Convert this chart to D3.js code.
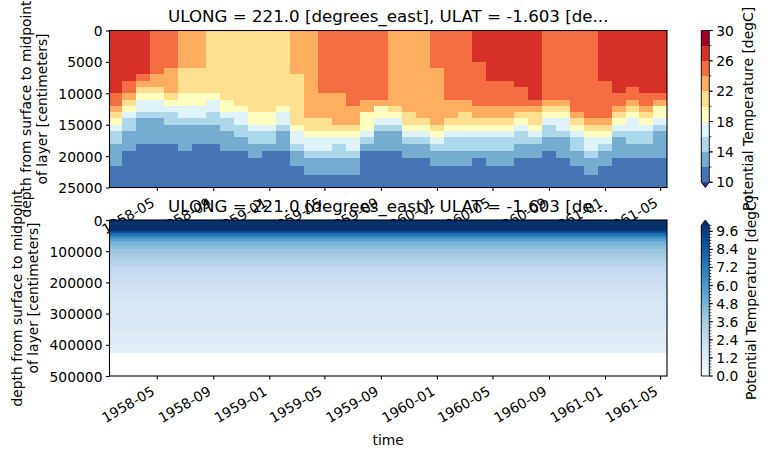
<!DOCTYPE html>
<html><head><meta charset="utf-8">
<script src="https://cdn.jsdelivr.net/npm/d3@7"></script>
<style>
body{margin:0;background:#fff}
svg text{font-family:"DejaVu Sans",sans-serif;fill:#000}
</style></head><body>
<svg id="c" width="770" height="457" xmlns="http://www.w3.org/2000/svg"></svg>
<script>
// ---------------- DATA ----------------
const titleText = "ULONG = 221.0 [degrees_east], ULAT = -1.603 [de...";
const yLabelLines = ["depth from surface to midpoint", "of layer [centimeters]"];
const cbarLabel = "Potential Temperature [degC]";
const xLabel = "time";

const monthStamps = [
 "1958-02-01","1958-03-01","1958-04-01","1958-05-01","1958-06-01","1958-07-01","1958-08-01","1958-09-01","1958-10-01","1958-11-01","1958-12-01",
 "1959-01-01","1959-02-01","1959-03-01","1959-04-01","1959-05-01","1959-06-01","1959-07-01","1959-08-01","1959-09-01","1959-10-01","1959-11-01","1959-12-01",
 "1960-01-01","1960-02-01","1960-03-01","1960-04-01","1960-05-01","1960-06-01","1960-07-01","1960-08-01","1960-09-01","1960-10-01","1960-11-01","1960-12-01",
 "1961-01-01","1961-02-01","1961-03-01","1961-04-01","1961-05-01"];

const depthLevels = [500,1500,2500,3500,4500,5500,6500,7500,8500,9500,10500,11500,12500,13500,14500,15500,
 16509.84,17547.9,18629.13,19766.03,20971.14,22257.83,23640.88,25137.02,
 26765.42,28548.37,30511.92,32686.8,35109.35,37822.76,40878.46,44337.77,48273.67,52772.8,57937.29,63886.26,
 70756.33,78700.25,87882.52,98470.59,110620.4,124456.7,140049.7,157394.6,176400.3,196894.4,218645.6,241397.2,
 264900.1,288938.5,313340.5,337979.3,362767.0,387646.9,412584.8];

// upper-ocean temperature (degC), one array per month, levels 0..23
const tempUpper = [
 [27,27,27,27,27,27,27,27,27,27,25,25,23,21,19,17,15,15,13,13,13,11,11,11],
 [27,27,27,27,27,27,27,27,25,25,23,21,19,17,15,15,13,13,13,11,11,11,11,11],
 [27,27,27,27,27,27,27,25,23,21,19,17,17,15,13,13,13,13,11,11,11,11,11,11],
 [25,25,25,25,25,25,25,23,23,21,19,17,17,15,13,13,13,13,11,11,11,11,11,11],
 [25,25,25,25,25,25,23,23,23,23,21,19,17,15,15,13,13,13,11,11,11,11,11,11],
 [23,23,23,23,23,23,21,21,21,21,19,19,17,17,15,13,13,13,13,11,11,11,11,11],
 [23,23,23,23,23,23,21,21,21,21,19,19,17,17,15,13,13,13,11,11,11,11,11,11],
 [21,21,21,21,21,21,21,21,21,21,19,17,17,15,15,13,13,13,11,11,11,11,11,11],
 [21,21,21,21,21,21,21,21,21,21,21,19,19,17,15,15,13,13,13,11,11,11,11,11],
 [21,21,21,21,21,21,21,21,21,21,21,21,19,17,17,15,15,13,13,11,11,11,11,11],
 [21,21,21,21,21,21,21,21,21,21,21,21,21,19,19,17,15,15,13,13,11,11,11,11],
 [21,21,21,21,21,21,21,21,21,21,21,21,21,19,19,17,15,15,13,11,11,11,11,11],
 [21,21,21,21,21,21,21,21,21,21,21,21,19,17,17,15,13,13,13,11,11,11,11,11],
 [23,23,23,23,23,23,23,21,21,21,21,21,21,21,21,19,17,17,15,13,13,11,11,11],
 [23,23,23,23,23,23,23,23,23,23,23,23,23,23,21,21,19,17,17,15,13,13,11,11],
 [25,25,25,25,25,25,25,25,25,25,23,23,23,23,21,21,19,17,17,15,13,13,11,11],
 [25,25,25,25,25,25,25,25,25,25,23,23,23,23,23,21,19,17,15,15,13,13,11,11],
 [25,25,25,25,25,25,25,25,25,25,25,25,23,23,23,21,19,17,17,15,13,13,11,11],
 [25,25,25,25,25,25,25,25,25,25,25,23,23,19,19,19,17,15,13,11,11,11,11,11],
 [25,25,25,25,25,25,25,25,25,25,25,23,19,19,17,15,13,13,13,11,11,11,11,11],
 [23,23,23,23,23,23,23,23,23,23,23,23,21,19,17,15,13,13,13,11,11,11,11,11],
 [23,23,23,23,23,23,23,23,23,23,23,23,23,21,21,19,17,15,13,13,11,11,11,11],
 [23,23,23,23,23,23,23,23,23,23,23,23,23,23,21,19,17,15,13,13,11,11,11,11],
 [25,25,25,25,25,25,23,23,23,23,23,23,23,23,23,21,19,17,15,13,13,11,11,11],
 [25,25,25,25,25,25,25,25,25,25,25,23,23,23,21,19,17,15,15,13,13,11,11,11],
 [25,25,25,25,25,25,25,25,25,25,25,23,23,21,21,19,17,15,15,13,13,11,11,11],
 [27,27,27,27,27,25,25,25,25,25,25,25,23,23,21,19,17,15,15,13,11,11,11,11],
 [27,27,27,27,27,27,27,27,25,25,25,25,23,23,21,19,17,15,15,13,13,11,11,11],
 [27,27,27,27,27,27,27,27,25,25,25,25,23,23,21,19,17,15,15,13,13,11,11,11],
 [27,27,27,27,27,27,27,27,27,25,25,25,23,21,19,17,15,15,13,13,11,11,11,11],
 [27,27,27,27,27,27,27,27,27,27,27,25,23,21,21,19,17,15,13,13,11,11,11,11],
 [25,25,25,25,25,25,25,25,25,25,25,23,21,19,17,15,15,13,13,11,11,11,11,11],
 [25,25,25,25,25,25,25,25,25,25,25,23,21,19,17,17,15,13,13,13,11,11,11,11],
 [25,25,25,25,25,25,25,25,25,25,25,25,25,23,21,19,17,15,15,13,13,11,11,11],
 [25,25,25,25,25,25,25,25,25,25,25,25,25,25,23,21,19,17,17,15,13,13,11,11],
 [27,27,27,27,27,27,27,27,25,25,25,25,25,25,23,21,19,17,15,13,13,11,11,11],
 [27,27,27,27,27,27,27,27,27,27,25,25,23,21,19,17,15,13,13,13,11,11,11,11],
 [27,27,27,27,27,27,27,27,27,25,25,23,21,19,17,17,15,15,13,13,11,11,11,11],
 [27,27,27,27,27,27,27,27,27,27,25,25,23,21,19,17,15,15,13,13,11,11,11,11],
 [27,27,27,27,27,27,27,27,27,27,25,23,19,19,17,15,13,13,13,13,11,11,11,11]
];

// deep-ocean temperature profile (degC), levels 24..54
const tempDeep = [10.8,10.4,10.1,9.9,9.6,9.2,8.6,8.0,7.4,6.8,6.2,5.6,5.1,4.6,4.2,3.9,3.6,3.3,3.0,2.7,
 2.45,2.25,2.05,1.9,1.75,1.62,1.5,1.4,1.3,1.2,1.1];

const yTicksTop = [0,5000,10000,15000,20000,25000];
const yTicksBottom = [0,100000,200000,300000,400000,500000];
const xTickLabels = ["1958-05","1958-09","1959-01","1959-05","1959-09","1960-01","1960-05","1960-09","1961-01","1961-05"];
const topLevels = [10,12,14,16,18,20,22,24,26,28,30];
const topTicks = [10,14,18,22,26,30];
const bottomTicks = [0,1.2,2.4,3.6,4.8,6.0,7.2,8.4,9.6];

// colours
const topBinColors = ["#4575b4","#74add1","#abd9e9","#e0f3f8","#ffffbf","#fee090","#fdae61","#f46d43","#d73027","#a50026"];
const topUnder = "#313695";
const bluesStops = ["#f7fbff","#deebf7","#c6dbef","#9ecae1","#6baed6","#4292c6","#2171b5","#08519c","#08306b"];

// ---------------- BUILD ----------------
const bottomLevels = d3.range(51).map(i => +(i*0.2).toFixed(1));
const blues = d3.piecewise(d3.interpolateRgb, bluesStops);
const nB = bottomLevels.length - 1;
const bottomBinColors = d3.range(nB).map(i => blues(i/nB));
const bottomOver = blues(1);

const topColor = d3.scaleThreshold().domain(topLevels).range([topUnder, ...topBinColors, topBinColors[topBinColors.length-1]]);
const bottomColor = d3.scaleThreshold().domain(bottomLevels).range([bluesStops[0], ...bottomBinColors, bottomOver]);

const parseDay = d3.utcParse("%Y-%m-%d");
const parseMonth = d3.utcParse("%Y-%m");
const centers = monthStamps.map(parseDay);
const n = centers.length;
const tEdges = [new Date(+centers[0] - (centers[1]-centers[0])/2)];
for (let i=1;i<n;i++) tEdges.push(new Date((+centers[i-1] + +centers[i])/2));
tEdges.push(new Date(+centers[n-1] + (centers[n-1]-centers[n-2])/2));

const m = depthLevels.length;
const dEdges = [depthLevels[0] - (depthLevels[1]-depthLevels[0])/2];
for (let k=1;k<m;k++) dEdges.push((depthLevels[k-1]+depthLevels[k])/2);
dEdges.push(depthLevels[m-1] + (depthLevels[m-1]-depthLevels[m-2])/2);

const cells = [];
for (let c=0;c<n;c++) for (let k=0;k<m;k++) {
  const v = k < tempUpper[c].length ? tempUpper[c][k] : tempDeep[k - tempUpper[c].length];
  cells.push({c,k,v});
}

const svg = d3.select("#c");
const X0 = 109.5, X1 = 667;
const x = d3.scaleUtc().domain([tEdges[0], tEdges[n]]).range([X0, X1]);
const FS = 13.89;

const panels = [
  {top:30.5, bottom:187.5, ymax:25000, yTicks:yTicksTop, color:topColor, ylabX:[25.6,42], cbX:748,
   cb:{levels:topLevels, colors:topBinColors, ext:"min", extColor:topUnder, ticks:topTicks, fmt:d3.format("d")}},
  {top:220, bottom:376, ymax:500000, yTicks:yTicksBottom, color:bottomColor, ylabX:[16.8,33.2], cbX:751,
   cb:{levels:bottomLevels, colors:bottomBinColors, ext:"max", extColor:bottomOver, ticks:bottomTicks, fmt:d3.format(".1f")}}
];

panels.forEach((p, pi) => {
  const y = d3.scaleLinear().domain([0, p.ymax]).range([p.top, p.bottom]);
  const clipId = "clip" + pi;
  svg.append("clipPath").attr("id", clipId).append("rect")
    .attr("x", X0).attr("y", p.top).attr("width", X1-X0).attr("height", p.bottom-p.top);
  const g = svg.append("g").attr("clip-path", `url(#${clipId})`).attr("shape-rendering","crispEdges");
  g.selectAll("rect").data(cells).join("rect")
    .attr("x", d => x(tEdges[d.c]))
    .attr("width", d => x(tEdges[d.c+1]) - x(tEdges[d.c]) + 0.3)
    .attr("y", d => y(dEdges[d.k]))
    .attr("height", d => y(dEdges[d.k+1]) - y(dEdges[d.k]) + 0.3)
    .attr("fill", d => p.color(d.v));

  // spines
  svg.append("rect").attr("x", X0).attr("y", p.top).attr("width", X1-X0).attr("height", p.bottom-p.top)
    .attr("fill","none").attr("stroke","#000").attr("stroke-width",1.1);

  // y axis
  const gy = svg.append("g").attr("transform", `translate(${X0},0)`)
    .call(d3.axisLeft(y).tickValues(p.yTicks).tickSize(3.5).tickPadding(3.5).tickFormat(d3.format("d")));
  gy.attr("font-size", FS).attr("font-family", "DejaVu Sans");
  gy.select(".domain").remove();
  gy.selectAll(".tick line").attr("stroke-width", 1.1);
  gy.selectAll(".tick text").attr("dy", "0.36em");

  // x axis
  const gx = svg.append("g").attr("transform", `translate(0,${p.bottom})`)
    .call(d3.axisBottom(x).tickValues(xTickLabels.map(parseMonth)).tickSize(3.5).tickFormat(d3.utcFormat("%Y-%m")));
  gx.attr("font-size", FS).attr("font-family", "DejaVu Sans");
  gx.select(".domain").remove();
  gx.selectAll(".tick line").attr("stroke-width", 1.1);
  gx.selectAll(".tick text").attr("dy", null).attr("text-anchor", "end")
    .attr("y", 12.9).attr("transform", "translate(-8.1,7) rotate(-30)");

  // y label
  const cy = (p.top + p.bottom)/2;
  yLabelLines.forEach((t, li) => {
    svg.append("text").attr("transform", `translate(${p.ylabX[li]},${cy}) rotate(-90)`)
      .attr("text-anchor","middle").attr("y", 5).attr("font-size", FS).text(t);
  });

  // colorbar
  const cb = p.cb, cbx = 701.3, cbw = 8, extLen = 5.3;
  const innerTop = cb.ext === "max" ? p.top + extLen : p.top;
  const innerBot = cb.ext === "min" ? p.bottom - extLen : p.bottom;
  const lv = cb.levels;
  const cyS = d3.scaleLinear().domain([lv[0], lv[lv.length-1]]).range([innerBot, innerTop]);
  const gc = svg.append("g");
  gc.selectAll("rect").data(cb.colors).join("rect")
    .attr("x", cbx).attr("width", cbw)
    .attr("y", (d,i) => cyS(lv[i+1]))
    .attr("height", (d,i) => cyS(lv[i]) - cyS(lv[i+1]) + 0.3)
    .attr("fill", d => d).attr("shape-rendering","crispEdges");
  let outline;
  if (cb.ext === "min") {
    gc.append("path").attr("d", `M${cbx},${innerBot}L${cbx+cbw},${innerBot}L${cbx+cbw/2},${p.bottom}Z`).attr("fill", cb.extColor);
    outline = `M${cbx},${innerTop}H${cbx+cbw}V${innerBot}L${cbx+cbw/2},${p.bottom}L${cbx},${innerBot}Z`;
  } else {
    gc.append("path").attr("d", `M${cbx},${innerTop}L${cbx+cbw},${innerTop}L${cbx+cbw/2},${p.top}Z`).attr("fill", cb.extColor);
    outline = `M${cbx},${innerTop}L${cbx+cbw/2},${p.top}L${cbx+cbw},${innerTop}V${innerBot}H${cbx}Z`;
  }
  gc.append("path").attr("d", outline).attr("fill","none").attr("stroke","#000").attr("stroke-width",0.9);
  gc.selectAll("line.mn").data(lv).join("line").attr("class","mn")
    .attr("x1", cbx+cbw).attr("x2", cbx+cbw+2).attr("y1", d=>cyS(d)).attr("y2", d=>cyS(d))
    .attr("stroke","#000").attr("stroke-width",0.8);
  gc.selectAll("line.mj").data(cb.ticks).join("line").attr("class","mj")
    .attr("x1", cbx+cbw).attr("x2", cbx+cbw+3.5).attr("y1", d=>cyS(d)).attr("y2", d=>cyS(d))
    .attr("stroke","#000").attr("stroke-width",1.1);
  gc.selectAll("text").data(cb.ticks).join("text")
    .attr("x", cbx+cbw+7).attr("y", d=>cyS(d)).attr("dy","0.36em").attr("font-size", FS)
    .text(d => cb.fmt(d));
  svg.append("text").attr("transform", `translate(${p.cbX},${cy}) rotate(-90)`)
    .attr("text-anchor","middle").attr("y", 5).attr("font-size", FS).text(cbarLabel);
});

panels.forEach(p => {
  svg.append("text").attr("x", (X0+X1)/2).attr("y", p.top - 8.3)
    .attr("text-anchor","middle").attr("font-size", 16.67).text(titleText);
});

svg.append("text").attr("x", (X0+X1)/2).attr("y", 444.5).attr("text-anchor","middle")
  .attr("font-size", FS).text(xLabel);
</script>
</body></html>
